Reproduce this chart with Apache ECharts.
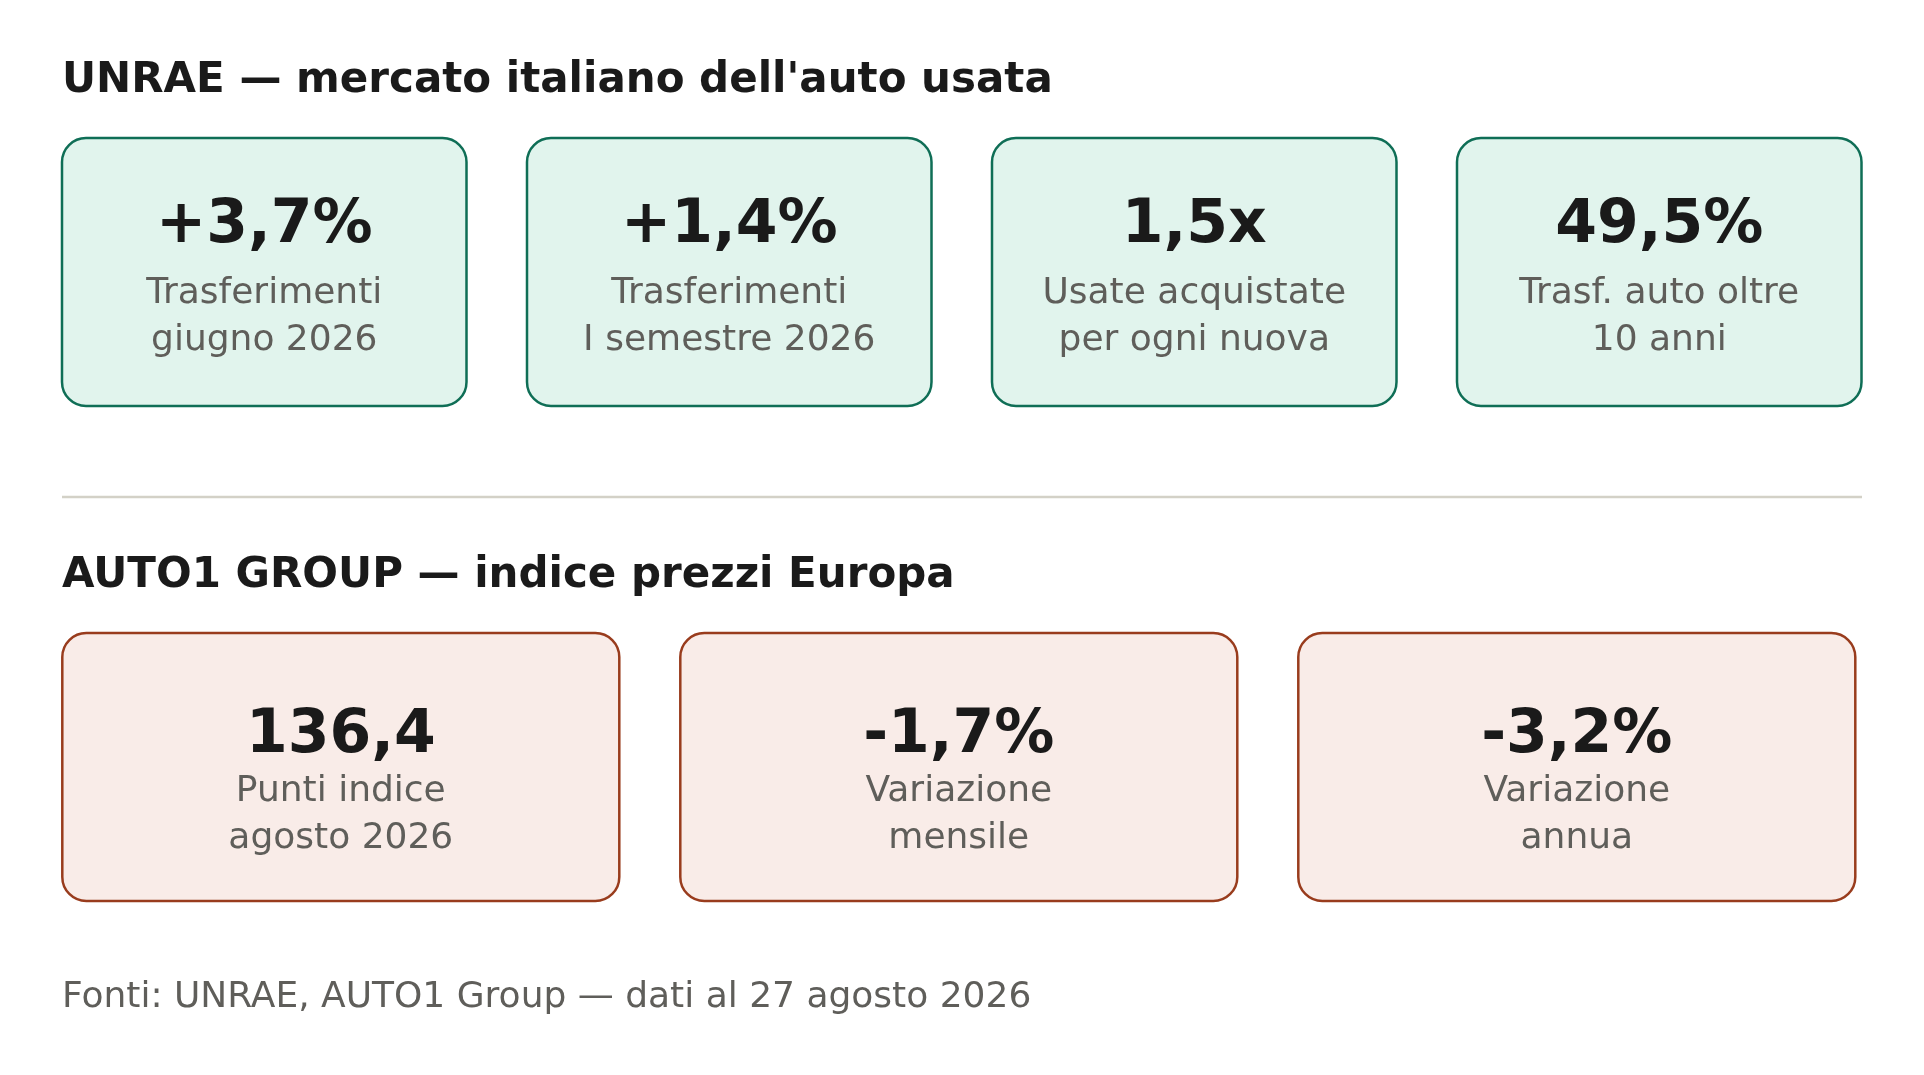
<!DOCTYPE html>
<html>
<head>
<meta charset="utf-8">
<script src="https://cdn.jsdelivr.net/npm/echarts@6/dist/echarts.min.js"></script>
<style>
html,body{margin:0;padding:0;background:#ffffff;}
#chart{width:1924px;height:1075px;}
</style>
</head>
<body>
<div id="chart"></div>
<script>
// ---- data ----
const sectionTitles = ["UNRAE — mercato italiano dell'auto usata", "AUTO1 GROUP — indice prezzi Europa"];
const unraeValues = ['+3,7%', '+1,4%', '1,5x', '49,5%'];
const unraeLabels = ['Trasferimenti\ngiugno 2026', 'Trasferimenti\nI semestre 2026', 'Usate acquistate\nper ogni nuova', 'Trasf. auto oltre\n10 anni'];
const auto1Values = ['136,4', '-1,7%', '-3,2%'];
const auto1Labels = ['Punti indice\nagosto 2026', 'Variazione\nmensile', 'Variazione\nannua'];
const footerText = 'Fonti: UNRAE, AUTO1 Group — dati al 27 agosto 2026';

// ---- layout / style ----
const FONT = 'DejaVu Sans';
const green = {fill: '#e1f4ed', stroke: '#0f6e56'};
const red = {fill: '#f9ece8', stroke: '#993c1d'};
const elements = [];

function text(x, y, str, size, weight, color, align, lh) {
  elements.push({
    type: 'text', x: x, y: y,
    style: {
      text: str, fontSize: size, fontWeight: weight, fontFamily: FONT,
      fill: color, align: align || 'left', verticalAlign: 'middle',
      lineHeight: lh || size
    }
  });
}

function cardRow(values, labels, cfg) {
  values.forEach(function (v, i) {
    const x = cfg.x0 + i * cfg.step;
    elements.push({
      type: 'rect',
      shape: {x: x, y: cfg.y, width: cfg.w, height: cfg.h, r: 24},
      style: {fill: cfg.color.fill, stroke: cfg.color.stroke, lineWidth: 2.5}
    });
    const cx = x + cfg.w / 2;
    text(cx, cfg.valueY, v, 60, 'bold', '#1a1a1a', 'center');
    text(cx, cfg.labelY, labels[i], 36, 'normal', '#5f5e5a', 'center', 47);
  });
}

text(62, 81.5, sectionTitles[0], 42, 'bold', '#1a1a1a');
cardRow(unraeValues, unraeLabels, {x0: 62, step: 465, w: 404.5, y: 138, h: 268, valueY: 226.7, labelY: 317.5, color: green});

elements.push({
  type: 'line',
  shape: {x1: 62, y1: 497, x2: 1862, y2: 497},
  style: {stroke: '#d3d1c7', lineWidth: 2.7}
});

text(62, 576.5, sectionTitles[1], 42, 'bold', '#1a1a1a');
cardRow(auto1Values, auto1Labels, {x0: 62.3, step: 618, w: 557, y: 633, h: 268, valueY: 736.2, labelY: 815, color: red});

text(62, 997.5, footerText, 36, 'normal', '#5f5e5a');

const chart = echarts.init(document.getElementById('chart'), null, {renderer: 'canvas'});
chart.setOption({
  backgroundColor: '#ffffff',
  animation: false,
  graphic: {elements: elements}
});
</script>
</body>
</html>
